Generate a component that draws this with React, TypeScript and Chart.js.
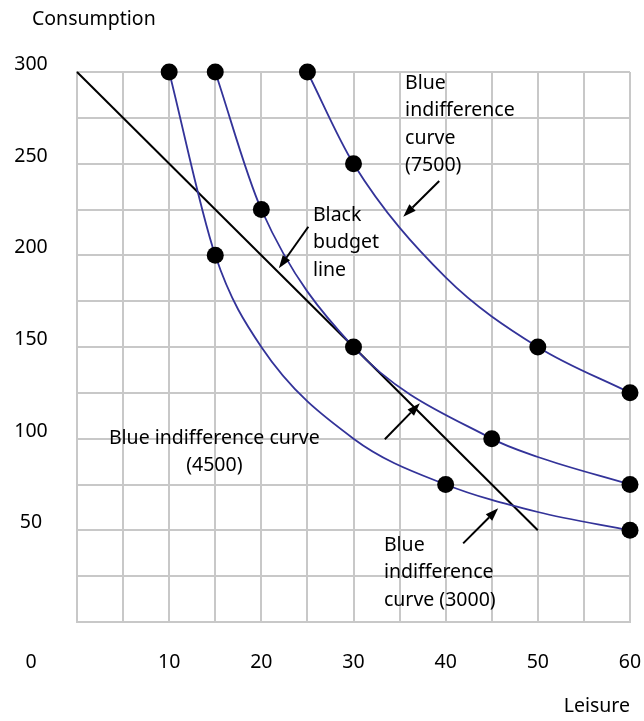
import React, { useEffect, useRef } from 'react';
import { Chart, registerables } from 'chart.js';

Chart.register(...registerables);

// ---- data: marked points ----
const curve3000Leisure = [10, 15, 40, 60];
const curve3000Consumption = [300, 200, 75, 50];
const curve4500Leisure = [15, 20, 30, 45, 60];
const curve4500Consumption = [300, 225, 150, 100, 75];
const curve7500Leisure = [25, 30, 50, 60];
const curve7500Consumption = [300, 250, 150, 125];

// ---- data: curve traces (marked points plus points) ----
const trace3000Leisure = [10, 15, 20, 30, 40, 50, 60];
const trace3000Consumption = [300, 200, 150, 100, 75, 60, 50];
const trace4500Leisure = [15, 20, 30, 45, 50, 60];
const trace4500Consumption = [300, 225, 150, 100, 90, 75];
const trace7500Leisure = [25, 30, 40, 50, 60];
const trace7500Consumption = [300, 250, 188, 150, 125];

const budgetLeisure = [0, 50];
const budgetConsumption = [300, 50];

const xTickLabels = [10, 20, 30, 40, 50, 60];
const yTickLabels = [50, 100, 150, 200, 250, 300];
const originLabel = '0';
const xTitle = 'Leisure';
const yTitle = 'Consumption';

// ---- annotations (anchors in data units) ----
const labelNotes = [
  { lines: ['Blue', 'indifference', 'curve', '(7500)'], x: 35.6, y: 293.8, align: 'left' },
  { lines: ['Black', 'budget', 'line'], x: 25.6, y: 222.0, align: 'left' },
  { lines: ['Blue indifference curve', '(4500)'], x: 14.9, y: 100.2, align: 'center' },
  { lines: ['Blue', 'indifference', 'curve (3000)'], x: 33.3, y: 42.0, align: 'left' },
];
const arrowNotes = [
  { from: [39.3, 240.5], to: [35.4, 221.1] },
  { from: [25.1, 215.6], to: [21.9, 192.9] },
  { from: [33.4, 99.7], to: [37.2, 119.3] },
  { from: [41.9, 42.9], to: [45.7, 62.0] },
];

const FONT = "'Noto Sans', 'Open Sans', sans-serif";
const BLUE = '#333399';
const GRID = '#c8c8c8';

const toPoints = (xs: number[], ys: number[]) => xs.map((x, i) => ({ x, y: ys[i] }));

const annotationPlugin = {
  id: 'annotations',
  afterDraw(chart: any) {
    const { ctx, scales } = chart;
    const xs = scales.x;
    const ys = scales.y;
    ctx.save();
    ctx.fillStyle = '#000';
    ctx.font = `19.5px ${FONT}`;
    ctx.textBaseline = 'middle';
    const lh = 27.5;
    labelNotes.forEach((n) => {
      const px = xs.getPixelForValue(n.x);
      const py = ys.getPixelForValue(n.y);
      ctx.textAlign = n.align as CanvasTextAlign;
      n.lines.forEach((t, i) => ctx.fillText(t, px, py + i * lh));
    });
    ctx.strokeStyle = '#000';
    ctx.lineWidth = 2;
    arrowNotes.forEach((a) => {
      const x1 = xs.getPixelForValue(a.from[0]);
      const y1 = ys.getPixelForValue(a.from[1]);
      const x2 = xs.getPixelForValue(a.to[0]);
      const y2 = ys.getPixelForValue(a.to[1]);
      const ang = Math.atan2(y2 - y1, x2 - x1);
      const L = 13;
      const W = 4.5;
      const bx = x2 - L * Math.cos(ang);
      const by = y2 - L * Math.sin(ang);
      ctx.beginPath();
      ctx.moveTo(x1, y1);
      ctx.lineTo(bx, by);
      ctx.stroke();
      ctx.beginPath();
      ctx.moveTo(x2, y2);
      ctx.lineTo(bx + W * Math.sin(ang), by - W * Math.cos(ang));
      ctx.lineTo(bx - W * Math.sin(ang), by + W * Math.cos(ang));
      ctx.closePath();
      ctx.fill();
    });
    ctx.textAlign = 'left';
    ctx.textBaseline = 'alphabetic';
    ctx.fillText(yTitle, 32, 25);
    ctx.textAlign = 'center';
    ctx.textBaseline = 'middle';
    ctx.fillText(originLabel, ys.left + 31, xs.top + 40);
    ctx.restore();
  },
};

export default function App() {
  const ref = useRef<HTMLCanvasElement | null>(null);
  useEffect(() => {
    if (!ref.current) return;
    const traceCommon = {
      showLine: true,
      borderColor: BLUE,
      borderWidth: 1.8,
      pointRadius: 0,
      pointHoverRadius: 0,
      cubicInterpolationMode: 'monotone' as const,
      clip: false as any,
      fill: false,
    };
    const markerCommon = {
      showLine: false,
      pointRadius: 8.5,
      pointHoverRadius: 8.5,
      pointBackgroundColor: '#000',
      pointBorderColor: '#000',
      pointBorderWidth: 0,
      clip: false as any,
    };
    const chart = new Chart(ref.current, {
      type: 'scatter',
      data: {
        datasets: [
          { ...markerCommon, label: 'm3000', data: toPoints(curve3000Leisure, curve3000Consumption) },
          { ...markerCommon, label: 'm4500', data: toPoints(curve4500Leisure, curve4500Consumption) },
          { ...markerCommon, label: 'm7500', data: toPoints(curve7500Leisure, curve7500Consumption) },
          { ...traceCommon, label: '3000', data: toPoints(trace3000Leisure, trace3000Consumption) },
          { ...traceCommon, label: '4500', data: toPoints(trace4500Leisure, trace4500Consumption) },
          { ...traceCommon, label: '7500', data: toPoints(trace7500Leisure, trace7500Consumption) },
          {
            label: 'budget',
            data: toPoints(budgetLeisure, budgetConsumption),
            showLine: true,
            borderColor: '#000',
            borderWidth: 2,
            pointRadius: 0,
            pointHoverRadius: 0,
            clip: false as any,
          },
        ],
      },
      options: {
        animation: false,
        responsive: true,
        maintainAspectRatio: false,
        layout: { padding: { left: 0, top: 72, right: 14, bottom: 0 } },
        plugins: { legend: { display: false }, tooltip: { enabled: false } },
        scales: {
          x: {
            type: 'linear',
            min: 0,
            max: 60,
            afterFit: (s: any) => { s.height = 99; },
            ticks: {
              stepSize: 5,
              autoSkip: false,
              maxRotation: 0,
              padding: 0,
              color: '#000',
              font: { family: FONT, size: 19.5 },
              callback: (v: any) => (xTickLabels.includes(Number(v)) ? String(v) : ''),
            },
            grid: { color: GRID, lineWidth: 2, drawTicks: true, tickLength: 28.3, tickColor: 'rgba(0,0,0,0)' },
            border: { display: true, color: GRID, width: 2 },
            title: {
              display: true,
              text: xTitle,
              align: 'end',
              color: '#000',
              font: { family: FONT, size: 19.5 },
              padding: { top: 0, bottom: 2.5 },
            },
          },
          y: {
            type: 'linear',
            min: 0,
            max: 300,
            afterFit: (s: any) => { s.width = 77; },
            ticks: {
              stepSize: 25,
              autoSkip: false,
              crossAlign: 'center',
              padding: 0,
              labelOffset: -7.5,
              color: '#000',
              font: { family: FONT, size: 19.5 },
              callback: (v: any) => (yTickLabels.includes(Number(v)) ? String(v) : ''),
            },
            grid: { color: GRID, lineWidth: 2, drawTicks: true, tickLength: 29.3, tickColor: 'rgba(0,0,0,0)' },
            border: { display: true, color: GRID, width: 2 },
          },
        },
      } as any,
      plugins: [annotationPlugin],
    });
    return () => chart.destroy();
  }, []);
  return (
    <div style={{ position: 'absolute', left: 0, top: 0, width: 644, height: 721, background: '#fff' }}>
      <canvas ref={ref} />
    </div>
  );
}
